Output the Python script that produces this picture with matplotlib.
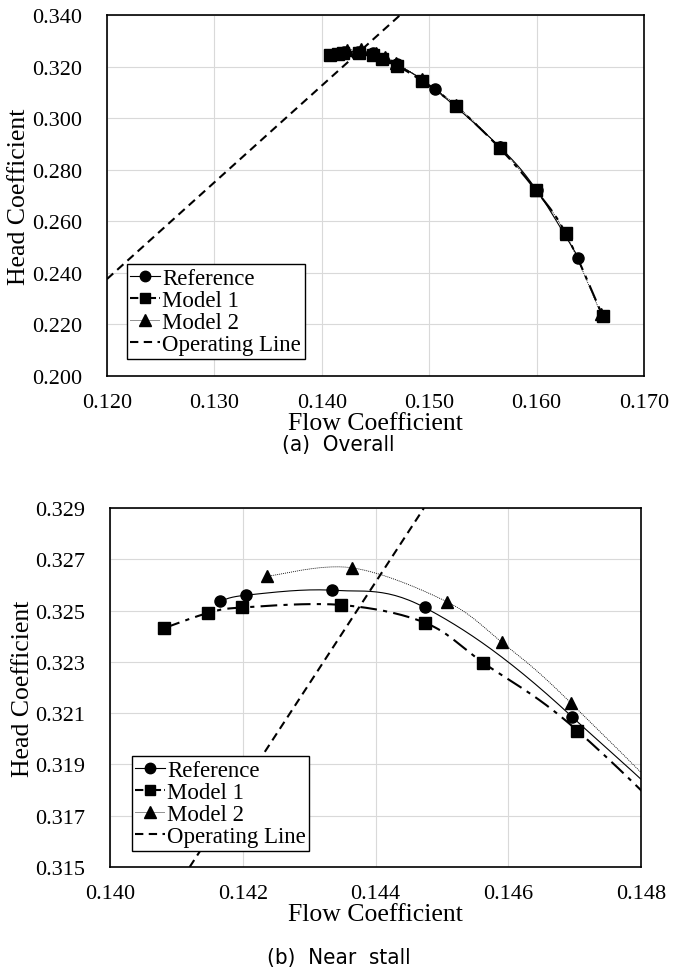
import numpy as np
import matplotlib
matplotlib.use("Agg")
import matplotlib.pyplot as plt

# values
ref_x = [0.14165, 0.14205, 0.14335, 0.14474, 0.14696, 0.1505, 0.1566, 0.1600, 0.1639]
ref_y = [0.32536, 0.32560, 0.32579, 0.32512, 0.32086, 0.3113, 0.2887, 0.2721, 0.2459]

m1_x = [0.14081, 0.14147, 0.14199, 0.14348, 0.14475, 0.14562, 0.14704,
        0.14933, 0.15249, 0.15656, 0.15992, 0.1627, 0.16616]
m1_y = [0.32431, 0.32490, 0.32512, 0.32522, 0.32452, 0.32297, 0.32032,
        0.3144, 0.3047, 0.2884, 0.2721, 0.2554, 0.2232]

m2_x = [0.14237, 0.14364, 0.14507, 0.14590, 0.14695,
        0.14933, 0.15249, 0.15656, 0.15992, 0.1627, 0.1660]
m2_y = [0.32634, 0.32667, 0.32535, 0.32377, 0.32138,
        0.3150, 0.3050, 0.2887, 0.2722, 0.2552, 0.2240]

# operating line end points (as read in each panel)
op_x_a = [0.1200, 0.1473]
op_y_a = [0.2376, 0.3400]
op_x_b = [0.14120, 0.14473]
op_y_b = [0.3150, 0.3290]

xticks_a = [0.120, 0.130, 0.140, 0.150, 0.160, 0.170]
yticks_a = [0.200, 0.220, 0.240, 0.260, 0.280, 0.300, 0.320, 0.340]
xticks_b = [0.140, 0.142, 0.144, 0.146, 0.148]
yticks_b = [0.315, 0.317, 0.319, 0.321, 0.323, 0.325, 0.327, 0.329]


def smooth(x, y, n=30):
    # Catmull-Rom curve through the points, like a spreadsheet "smoothed line"
    p = np.column_stack([x, y]).astype(float)
    p = np.vstack([p[0], p, p[-1]])
    t = np.linspace(0, 1, n)[:, None]
    out = []
    for i in range(1, len(p) - 2):
        p0, p1, p2, p3 = p[i - 1], p[i], p[i + 1], p[i + 2]
        seg = 0.5 * ((2 * p1) + (-p0 + p2) * t + (2 * p0 - 5 * p1 + 4 * p2 - p3) * t ** 2
                     + (-p0 + 3 * p1 - 3 * p2 + p3) * t ** 3)
        out.append(seg)
    out = np.vstack(out)
    return out[:, 0], out[:, 1]


serif = "Liberation Serif"

fig = plt.figure(figsize=(6.77, 9.78), dpi=100)
ax_a = fig.add_axes([107 / 677, 1 - 377 / 978, 537 / 677, 361 / 978])
ax_b = fig.add_axes([110 / 677, 1 - 868 / 978, 531 / 677, 359 / 978])


def draw(ax, op_x, op_y, xt, yt, fmt, leg_anchor):
    sx, sy = smooth(ref_x, ref_y)
    ax.plot(sx, sy, color="black", lw=0.8, zorder=3)
    sx, sy = smooth(m1_x, m1_y)
    ax.plot(sx, sy, color="black", lw=1.5, dashes=(8, 3, 2, 3), zorder=3)
    sx, sy = smooth(m2_x, m2_y)
    ax.plot(sx, sy, color="black", lw=0.6, dashes=(1.2, 1.2), zorder=3)

    ax.plot(ref_x, ref_y, "o", color="black", ms=8, zorder=5)
    ax.plot(m2_x, m2_y, "^", color="black", ms=9, zorder=4)
    ax.plot(m1_x, m1_y, "s", color="black", ms=8.5, zorder=6)
    ax.plot(op_x, op_y, color="black", lw=1.5, dashes=(4, 2.6), zorder=3)

    # legend proxies
    h1, = ax.plot([], [], "-o", color="black", lw=0.8, ms=7.5)
    h2, = ax.plot([], [], "-s", color="black", lw=1.5, ms=7.5, dashes=(4, 1.5, 1.5, 1.5))
    h3, = ax.plot([], [], "-^", color="black", lw=0.6, ms=8.5, dashes=(1.2, 1.2))
    h4, = ax.plot([], [], color="black", lw=1.5, dashes=(4, 2.6))
    leg = ax.legend([h1, h2, h3, h4], ["Reference", "Model 1", "Model 2", "Operating Line"],
                    loc="upper left", bbox_to_anchor=leg_anchor, frameon=True, fancybox=False,
                    framealpha=1, edgecolor="black", handlelength=1.3, handletextpad=0.1,
                    labelspacing=0.05, borderpad=0.15, borderaxespad=0,
                    prop={"family": serif, "size": 16.5})
    leg.get_frame().set_linewidth(1.0)
    leg.set_zorder(10)

    ax.set_xlim(xt[0], xt[-1])
    ax.set_ylim(yt[0], yt[-1])
    ax.set_xticks(xt)
    ax.set_yticks(yt)
    ax.set_xticklabels([fmt % v for v in xt], fontfamily=serif, fontsize=16)
    ax.set_yticklabels([fmt % v for v in yt], fontfamily=serif, fontsize=16)
    ax.tick_params(length=0)
    ax.tick_params(axis="x", pad=12)
    ax.tick_params(axis="y", pad=18)
    ax.grid(True, color="#d9d9d9", lw=0.8)
    ax.set_axisbelow(True)
    for s in ax.spines.values():
        s.set_linewidth(1.2)
        s.set_color("black")
    ax.set_xlabel("Flow Coefficient", fontfamily=serif, fontsize=18.5, labelpad=0)
    ax.set_ylabel("Head Coefficient", fontfamily=serif, fontsize=18.5, labelpad=1)


draw(ax_a, op_x_a, op_y_a, xticks_a, yticks_a, "%.3f", (0.037, 0.310))
draw(ax_b, op_x_b, op_y_b, xticks_b, yticks_b, "%.3f", (0.041, 0.309))

fig.text(0.5, 1 - 445 / 978, "(a)  Overall", ha="center", va="center",
         family="DejaVu Sans", fontstretch="condensed", fontweight="light", fontsize=16)
fig.text(0.5, 1 - 958 / 978, "(b)  Near  stall", ha="center", va="center",
         family="DejaVu Sans", fontstretch="condensed", fontweight="light", fontsize=16)

fig.savefig("out.png", dpi=100)
